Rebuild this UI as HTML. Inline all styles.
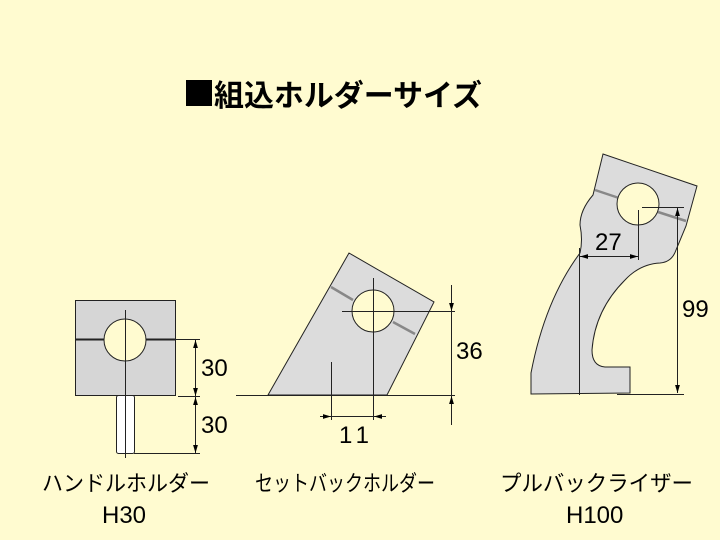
<!DOCTYPE html>
<html><head><meta charset="utf-8"><style>
html,body{margin:0;padding:0;background:#FFFBD0;}
svg{display:block}
text{font-family:"Liberation Sans","Noto Sans CJK JP",sans-serif;fill:#000}
</style></head><body>
<svg width="720" height="540" viewBox="0 0 720 540" xmlns="http://www.w3.org/2000/svg">
<defs>
<marker id="a" viewBox="0 0 10 10" refX="10" refY="5" markerWidth="8" markerHeight="8" orient="auto-start-reverse" markerUnits="userSpaceOnUse"><path d="M0,2 L10,5 L0,8z" fill="#000"/></marker>
</defs>
<rect width="720" height="540" fill="#FFFBD0"/>
<rect x="186" y="80" width="26" height="26" fill="#000"/>
<text x="214" y="106" font-size="30" font-weight="bold" textLength="268" lengthAdjust="spacingAndGlyphs">組込ホルダーサイズ</text>

<!-- Holder H30 -->
<g stroke="#222" stroke-width="1">
<rect x="75.5" y="300.5" width="100" height="95" fill="#D6D6D6"/>
<rect x="116.5" y="395.5" width="18" height="58" fill="#fff" rx="2"/>
<line x1="75" y1="339.5" x2="175" y2="339.5" stroke-width="2"/>
<circle cx="125" cy="340" r="21" fill="#FFFBD0"/>
<line x1="125.5" y1="310" x2="125.5" y2="458"/>
<line x1="175" y1="339.5" x2="200" y2="339.5"/>
<line x1="178" y1="396.5" x2="200" y2="396.5"/>
<line x1="134" y1="453.5" x2="200" y2="453.5"/>
<line x1="195.5" y1="340" x2="195.5" y2="396" marker-start="url(#a)" marker-end="url(#a)"/>
<line x1="195.5" y1="397" x2="195.5" y2="453" marker-start="url(#a)" marker-end="url(#a)"/>
<line x1="236" y1="395.5" x2="455" y2="395.5"/>
</g>
<text x="201" y="376" font-size="24">30</text>
<text x="201" y="433" font-size="24">30</text>

<!-- Setback -->
<g stroke="#222" stroke-width="1">
<polygon points="349,253 434,302 387,395 268,395" fill="#DCDCDC"/>
<line x1="331" y1="287" x2="353" y2="300" stroke-width="2.5" stroke="#888"/>
<line x1="393" y1="322" x2="415" y2="334" stroke-width="2.5" stroke="#888"/>
<circle cx="373" cy="311" r="21" fill="#FFFBD0"/>
<line x1="373.5" y1="278" x2="373.5" y2="420"/>
<line x1="342" y1="311.5" x2="455" y2="311.5"/>
<line x1="331.5" y1="362" x2="331.5" y2="420"/>
<line x1="451.5" y1="285" x2="451.5" y2="311" marker-end="url(#a)"/>
<line x1="451.5" y1="311" x2="451.5" y2="395"/>
<line x1="451.5" y1="425" x2="451.5" y2="396" marker-end="url(#a)"/>
<line x1="320" y1="416.5" x2="331" y2="416.5" marker-end="url(#a)"/>
<line x1="331" y1="416.5" x2="373" y2="416.5"/>
<line x1="386" y1="416.5" x2="374" y2="416.5" marker-end="url(#a)"/>
</g>
<text x="456" y="359" font-size="24">36</text>
<text x="339" y="443" font-size="24" textLength="30">11</text>

<!-- Pullback riser -->
<g stroke="#222" stroke-width="1">
<path d="M603,154 L697,186 L686,226 L676,250 Q672,262 660,263 Q640,264 625,280 Q595,310 592,350 Q592,366 605,367 L630,367 L630,393 L531,394 L531,373 Q545,300 580,253 Q583,240 580,225 Q580,210 593,195 Z" fill="#DCDCDC"/>
<line x1="595" y1="190" x2="619" y2="198" stroke-width="2.5" stroke="#888"/>
<line x1="658" y1="212" x2="686" y2="221" stroke-width="2.5" stroke="#888"/>
<circle cx="638" cy="204" r="21" fill="#FFFBD0"/>
<line x1="638.5" y1="210" x2="638.5" y2="260"/>
<line x1="642" y1="207.5" x2="684" y2="207.5"/>
<line x1="579.5" y1="248" x2="579.5" y2="395"/>
<line x1="580" y1="256.5" x2="638" y2="256.5" marker-start="url(#a)" marker-end="url(#a)"/>
<line x1="677.5" y1="208" x2="677.5" y2="393" marker-start="url(#a)" marker-end="url(#a)"/>
<line x1="617" y1="394.5" x2="684" y2="394.5"/>
</g>
<text x="595" y="250" font-size="24">27</text>
<text x="682" y="317" font-size="24">99</text>

<!-- labels -->
<text x="42" y="491" font-size="22" textLength="168" lengthAdjust="spacingAndGlyphs">ハンドルホルダー</text>
<text x="102" y="523" font-size="24">H30</text>
<text x="255" y="491" font-size="22" textLength="180" lengthAdjust="spacingAndGlyphs">セットバックホルダー</text>
<text x="500" y="491" font-size="22" textLength="193" lengthAdjust="spacingAndGlyphs">プルバックライザー</text>
<text x="566" y="523" font-size="24">H100</text>
</svg>
</body></html>
